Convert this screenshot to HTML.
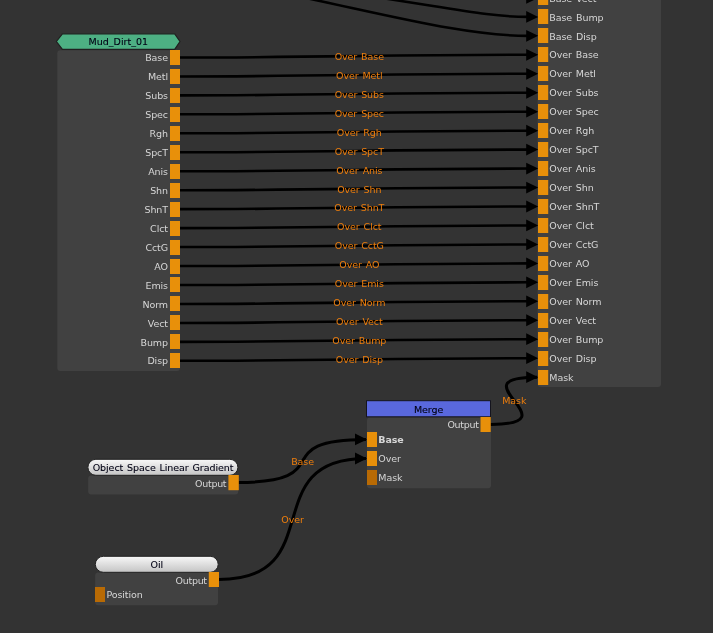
<!DOCTYPE html>
<html><head><meta charset="utf-8"><title>Node Graph</title>
<style>html,body{margin:0;padding:0;background:#333333;overflow:hidden}svg{display:block}text{font-family:"DejaVu Sans","Liberation Sans",sans-serif;font-size:9.5px;letter-spacing:-.08px;word-spacing:1px}.p{fill:#d6d6d6}.l{fill:#ee7e0c;text-anchor:middle}.r{text-anchor:end}.h{fill:#000014;text-anchor:middle;stroke:#000014;stroke-width:.1px}.w{stroke:#000;stroke-width:2.55;fill:none}.c{stroke-width:3}.a{fill:#000}.t{letter-spacing:-.3px}.o{fill:#e8900a}.d{fill:#b86a04}.b{fill:#414141}</style></head><body>
<svg width="713" height="633" viewBox="0 0 713 633">
<defs><linearGradient id="g" x1="0" y1="0" x2="0" y2="1"><stop offset="0" stop-color="#f8f8f8"/><stop offset="1" stop-color="#c4c4c4"/></linearGradient></defs>
<rect width="713" height="633" fill="#333333"/>
<rect class="b" x="57.3" y="50.2" width="122.7" height="320.8" rx="3"/>
<rect class="b" x="537.6" y="-20" width="123.4" height="407.1" rx="3"/>
<rect class="b" x="367" y="417.5" width="124" height="70.8" rx="3"/>
<rect class="b" x="88.2" y="475.5" width="150" height="19" rx="3"/>
<rect class="b" x="95.2" y="572.5" width="122.8" height="32.7" rx="3"/>
<path class="w" d="M180 57.46C330 57.46 380 54.82 530 54.82"/>
<path class="a" d="M538.20 54.82L526.20 48.92L526.20 60.72Z"/>
<path class="w" d="M180 76.42C330 76.42 380 73.78 530 73.78"/>
<path class="a" d="M538.20 73.78L526.20 67.88L526.20 79.68Z"/>
<path class="w" d="M180 95.38C330 95.38 380 92.74 530 92.74"/>
<path class="a" d="M538.20 92.74L526.20 86.84L526.20 98.64Z"/>
<path class="w" d="M180 114.34C330 114.34 380 111.70 530 111.70"/>
<path class="a" d="M538.20 111.70L526.20 105.80L526.20 117.60Z"/>
<path class="w" d="M180 133.30C330 133.30 380 130.66 530 130.66"/>
<path class="a" d="M538.20 130.66L526.20 124.76L526.20 136.56Z"/>
<path class="w" d="M180 152.26C330 152.26 380 149.62 530 149.62"/>
<path class="a" d="M538.20 149.62L526.20 143.72L526.20 155.52Z"/>
<path class="w" d="M180 171.22C330 171.22 380 168.58 530 168.58"/>
<path class="a" d="M538.20 168.58L526.20 162.68L526.20 174.48Z"/>
<path class="w" d="M180 190.18C330 190.18 380 187.54 530 187.54"/>
<path class="a" d="M538.20 187.54L526.20 181.64L526.20 193.44Z"/>
<path class="w" d="M180 209.14C330 209.14 380 206.50 530 206.50"/>
<path class="a" d="M538.20 206.50L526.20 200.60L526.20 212.40Z"/>
<path class="w" d="M180 228.10C330 228.10 380 225.46 530 225.46"/>
<path class="a" d="M538.20 225.46L526.20 219.56L526.20 231.36Z"/>
<path class="w" d="M180 247.06C330 247.06 380 244.42 530 244.42"/>
<path class="a" d="M538.20 244.42L526.20 238.52L526.20 250.32Z"/>
<path class="w" d="M180 266.02C330 266.02 380 263.38 530 263.38"/>
<path class="a" d="M538.20 263.38L526.20 257.48L526.20 269.28Z"/>
<path class="w" d="M180 284.98C330 284.98 380 282.34 530 282.34"/>
<path class="a" d="M538.20 282.34L526.20 276.44L526.20 288.24Z"/>
<path class="w" d="M180 303.94C330 303.94 380 301.30 530 301.30"/>
<path class="a" d="M538.20 301.30L526.20 295.40L526.20 307.20Z"/>
<path class="w" d="M180 322.90C330 322.90 380 320.26 530 320.26"/>
<path class="a" d="M538.20 320.26L526.20 314.36L526.20 326.16Z"/>
<path class="w" d="M180 341.86C330 341.86 380 339.22 530 339.22"/>
<path class="a" d="M538.20 339.22L526.20 333.32L526.20 345.12Z"/>
<path class="w" d="M180 360.82C330 360.82 380 358.18 530 358.18"/>
<path class="a" d="M538.20 358.18L526.20 352.28L526.20 364.08Z"/>
<path class="w" d="M293.2 -4.7C395.6 16.85 466.8 35.86 528 35.86"/>
<path class="a" d="M538.20 35.86L526.20 29.96L526.20 41.76Z"/>
<path class="w" d="M344.3 -7.7C456.1 8.8 487.8 16.90 528 16.90"/>
<path class="a" d="M538.20 16.90L526.20 11.00L526.20 22.80Z"/>
<path class="a" d="M538.20 -2.06L526.20 -7.96L526.20 3.84Z"/>
<path class="w c" d="M238.40 482.50C340.90 482.50 264.50 439.40 366.00 439.40"/>
<path class="a" d="M367.00 439.40L355.00 433.50L355.00 445.30Z"/>
<path class="w c" d="M218.70 579.50C331.00 579.50 254.70 458.50 366.00 458.50"/>
<path class="a" d="M367.00 458.50L355.00 452.60L355.00 464.40Z"/>
<path class="w c" d="M490.60 424.40C574.60 424.40 454.20 377.14 537.20 377.14"/>
<path class="a" d="M538.20 377.14L526.20 371.24L526.20 383.04Z"/>
<rect class="o" x="170" y="50" width="10" height="15"/>
<text class="p r" x="168" y="61">Base</text>
<rect class="o" x="170" y="69" width="10" height="15"/>
<text class="p r" x="168" y="80">Metl</text>
<rect class="o" x="170" y="88" width="10" height="15"/>
<text class="p r" x="168" y="99">Subs</text>
<rect class="o" x="170" y="107" width="10" height="15"/>
<text class="p r" x="168" y="118">Spec</text>
<rect class="o" x="170" y="126" width="10" height="15"/>
<text class="p r" x="168" y="137">Rgh</text>
<rect class="o" x="170" y="145" width="10" height="15"/>
<text class="p r" x="168" y="156">SpcT</text>
<rect class="o" x="170" y="164" width="10" height="15"/>
<text class="p r" x="168" y="175">Anis</text>
<rect class="o" x="170" y="183" width="10" height="15"/>
<text class="p r" x="168" y="194">Shn</text>
<rect class="o" x="170" y="202" width="10" height="15"/>
<text class="p r" x="168" y="213">ShnT</text>
<rect class="o" x="170" y="221" width="10" height="15"/>
<text class="p r" x="168" y="232">Clct</text>
<rect class="o" x="170" y="240" width="10" height="15"/>
<text class="p r" x="168" y="251">CctG</text>
<rect class="o" x="170" y="259" width="10" height="15"/>
<text class="p r" x="168" y="270">AO</text>
<rect class="o" x="170" y="277" width="10" height="15"/>
<text class="p r" x="168" y="289">Emis</text>
<rect class="o" x="170" y="296" width="10" height="15"/>
<text class="p r" x="168" y="308">Norm</text>
<rect class="o" x="170" y="315" width="10" height="15"/>
<text class="p r" x="168" y="327">Vect</text>
<rect class="o" x="170" y="334" width="10" height="15"/>
<text class="p r" x="168" y="346">Bump</text>
<rect class="o" x="170" y="353" width="10" height="15"/>
<text class="p r" x="168" y="364">Disp</text>
<rect class="o" x="538" y="-10" width="10.2" height="15"/>
<text class="p" x="549.3" y="2">Base Vect</text>
<rect class="o" x="538" y="9" width="10.2" height="15"/>
<text class="p" x="549.3" y="21">Base Bump</text>
<rect class="o" x="538" y="28" width="10.2" height="15"/>
<text class="p" x="549.3" y="40">Base Disp</text>
<rect class="o" x="538" y="47" width="10.2" height="15"/>
<text class="p" x="549.3" y="58">Over Base</text>
<rect class="o" x="538" y="66" width="10.2" height="15"/>
<text class="p" x="549.3" y="77">Over Metl</text>
<rect class="o" x="538" y="85" width="10.2" height="15"/>
<text class="p" x="549.3" y="96">Over Subs</text>
<rect class="o" x="538" y="104" width="10.2" height="15"/>
<text class="p" x="549.3" y="115">Over Spec</text>
<rect class="o" x="538" y="123" width="10.2" height="15"/>
<text class="p" x="549.3" y="134">Over Rgh</text>
<rect class="o" x="538" y="142" width="10.2" height="15"/>
<text class="p" x="549.3" y="153">Over SpcT</text>
<rect class="o" x="538" y="161" width="10.2" height="15"/>
<text class="p" x="549.3" y="172">Over Anis</text>
<rect class="o" x="538" y="180" width="10.2" height="15"/>
<text class="p" x="549.3" y="191">Over Shn</text>
<rect class="o" x="538" y="199" width="10.2" height="15"/>
<text class="p" x="549.3" y="210">Over ShnT</text>
<rect class="o" x="538" y="218" width="10.2" height="15"/>
<text class="p" x="549.3" y="229">Over Clct</text>
<rect class="o" x="538" y="237" width="10.2" height="15"/>
<text class="p" x="549.3" y="248">Over CctG</text>
<rect class="o" x="538" y="256" width="10.2" height="15"/>
<text class="p" x="549.3" y="267">Over AO</text>
<rect class="o" x="538" y="275" width="10.2" height="15"/>
<text class="p" x="549.3" y="286">Over Emis</text>
<rect class="o" x="538" y="294" width="10.2" height="15"/>
<text class="p" x="549.3" y="305">Over Norm</text>
<rect class="o" x="538" y="313" width="10.2" height="15"/>
<text class="p" x="549.3" y="324">Over Vect</text>
<rect class="o" x="538" y="332" width="10.2" height="15"/>
<text class="p" x="549.3" y="343">Over Bump</text>
<rect class="o" x="538" y="351" width="10.2" height="15"/>
<text class="p" x="549.3" y="362">Over Disp</text>
<rect class="o" x="538" y="370" width="10.2" height="15"/>
<text class="p" x="549.3" y="381">Mask</text>
<text class="l" x="359.3" y="60">Over Base</text>
<text class="l" x="359.3" y="79">Over Metl</text>
<text class="l" x="359.3" y="98">Over Subs</text>
<text class="l" x="359.3" y="117">Over Spec</text>
<text class="l" x="359.3" y="136">Over Rgh</text>
<text class="l" x="359.3" y="155">Over SpcT</text>
<text class="l" x="359.3" y="174">Over Anis</text>
<text class="l" x="359.3" y="193">Over Shn</text>
<text class="l" x="359.3" y="211">Over ShnT</text>
<text class="l" x="359.3" y="230">Over Clct</text>
<text class="l" x="359.3" y="249">Over CctG</text>
<text class="l" x="359.3" y="268">Over AO</text>
<text class="l" x="359.3" y="287">Over Emis</text>
<text class="l" x="359.3" y="306">Over Norm</text>
<text class="l" x="359.3" y="325">Over Vect</text>
<text class="l" x="359.3" y="344">Over Bump</text>
<text class="l" x="359.3" y="363">Over Disp</text>
<text class="l" x="302.6" y="465">Base</text>
<text class="l" x="292.5" y="523">Over</text>
<text class="l" x="514.3" y="404">Mask</text>
<path d="M56.4 41.5L62.4 33.8L174.7 33.8L180 41.5L174.7 49.3L62.4 49.3Z" fill="#4db083" stroke="#202020" stroke-width="1.2"/>
<text class="h" x="118.3" y="45" style="letter-spacing:0">Mud_Dirt_01</text>
<rect x="366.5" y="400.7" width="124" height="16.1" fill="#5968de" stroke="#14141e" stroke-width="1"/>
<text class="h" x="428.6" y="413">Merge</text>
<rect class="o" x="480.5" y="417" width="10.2" height="15"/>
<text class="p r t" x="478.6" y="428">Output</text>
<rect class="o" x="367" y="432" width="10" height="15"/>
<text class="p" x="378.3" y="443" font-weight="bold">Base</text>
<rect class="o" x="367" y="451" width="10" height="15"/>
<text class="p" x="378.3" y="462">Over</text>
<rect class="d" x="367" y="470" width="10" height="15"/>
<text class="p" x="378.3" y="481">Mask</text>
<rect x="87.9" y="459.3" width="150" height="16" rx="8" fill="url(#g)" stroke="#222" stroke-width="1"/>
<text class="h" x="163" y="471">Object Space Linear Gradient</text>
<rect class="o" x="228.4" y="475" width="10.4" height="15.2"/>
<text class="p r t" x="226.3" y="487">Output</text>
<rect x="95.3" y="556.3" width="122.9" height="16" rx="8" fill="url(#g)" stroke="#222" stroke-width="1"/>
<text class="h" x="156.8" y="568">Oil</text>
<rect class="o" x="208.8" y="572" width="10.2" height="15"/>
<text class="p r t" x="206.8" y="584">Output</text>
<rect class="d" x="95" y="587" width="10" height="15"/>
<text class="p" x="106.4" y="598">Position</text>
</svg></body></html>
